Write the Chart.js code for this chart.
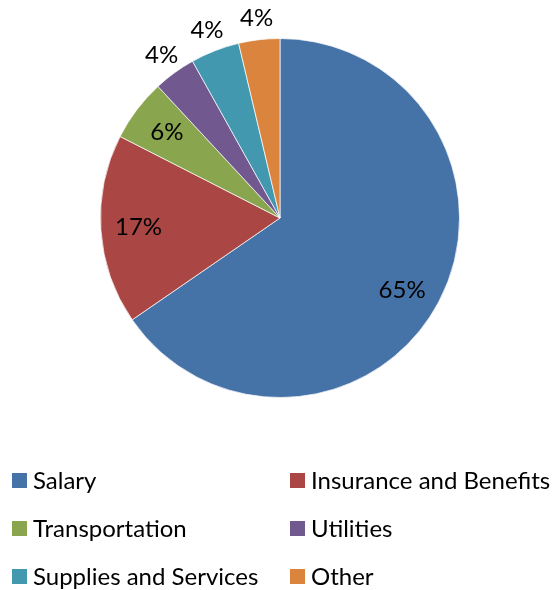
<!DOCTYPE html>
<html>
<head>
<meta charset="utf-8">
<script src="https://cdn.jsdelivr.net/npm/chart.js@4"></script>
<style>
  html, body { margin: 0; padding: 0; background: #fff; }
  #wrap { width: 560px; height: 590px; position: relative; }
</style>
</head>
<body>
<div id="wrap"><canvas id="c" width="560" height="590"></canvas></div>
<script>
const categories = ["Salary", "Insurance and Benefits", "Transportation", "Utilities", "Supplies and Services", "Other"];
const shares = [65.4, 17.1, 5.6, 3.8, 4.4, 3.7];
const colors = ["#4572A7", "#AA4643", "#89A54E", "#71588F", "#4198AF", "#DB843D"];

const FONT = "Lato, 'Open Sans', sans-serif";

const labelPlugin = {
  id: 'sliceLabels',
  afterDatasetsDraw(chart) {
    const ctx = chart.ctx;
    const meta = chart.getDatasetMeta(0);
    const total = shares.reduce((a, b) => a + b, 0);
    ctx.save();
    ctx.font = "24px " + FONT;
    ctx.fillStyle = "#000";
    ctx.textAlign = "center";
    ctx.textBaseline = "middle";
    meta.data.forEach((arc, i) => {
      const p = arc.getProps(['x', 'y', 'startAngle', 'endAngle', 'outerRadius'], true);
      let mid = (p.startAngle + p.endAngle) / 2;
      if (i === 0) mid += 0.05;
      const pct = Math.round(shares[i] / total * 100) + "%";
      const r = shares[i] > 5 ? p.outerRadius * 0.79 : p.outerRadius + 22;
      ctx.fillText(pct, p.x + Math.cos(mid) * r, p.y + Math.sin(mid) * r);
    });
    ctx.restore();
  }
};

const legendPlugin = {
  id: 'gridLegend',
  afterDraw(chart) {
    const ctx = chart.ctx;
    const colX = [12, 290];
    const rowY = [480, 528, 576];
    ctx.save();
    ctx.font = "24px " + FONT;
    ctx.textBaseline = "middle";
    ctx.textAlign = "left";
    categories.forEach((name, i) => {
      const x = colX[i % 2];
      const y = rowY[Math.floor(i / 2)];
      ctx.fillStyle = colors[i];
      ctx.fillRect(x, y - 7, 15, 15);
      ctx.fillStyle = "#000";
      ctx.fillText(name, x + 21, y + 1);
    });
    ctx.restore();
  }
};

new Chart(document.getElementById('c'), {
  type: 'pie',
  data: {
    labels: categories,
    datasets: [{
      data: shares,
      backgroundColor: colors,
      borderColor: 'rgba(255,255,255,0.7)',
      borderWidth: 1
    }]
  },
  options: {
    responsive: false,
    animation: false,
    layout: { padding: { top: 38, bottom: 192, left: 0, right: 0 } },
    plugins: {
      legend: { display: false },
      tooltip: { enabled: false }
    }
  },
  plugins: [labelPlugin, legendPlugin]
});
</script>
</body>
</html>
